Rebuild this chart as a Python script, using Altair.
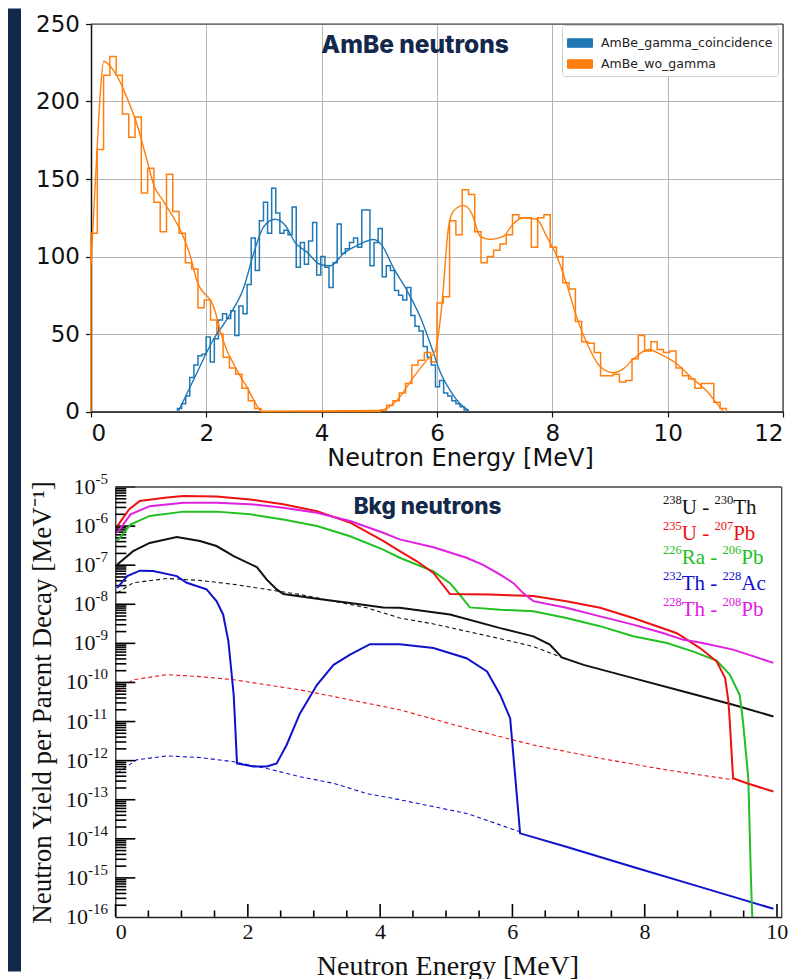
import altair as alt
import pandas as pd

NAVY = "#13294b"

# ================= Top panel: AmBe neutrons =================
top_series = ["AmBe_gamma_coincidence", "AmBe_wo_gamma"]
top_colors = ["#1f77b4", "#ff7f0e"]
top_x_ticks = [0, 2, 4, 6, 8, 10, 12]
top_y_ticks = [0, 50, 100, 150, 200, 250]

blue_bin_start = 1.5
blue_bin_width = 0.071
blue_counts = [2, 5, 10, 22, 30, 36, 37, 48, 32, 47, 59, 63, 60,
               65, 49, 68, 63, 82, 112, 91, 123, 135, 115, 144, 128, 115, 117, 114, 132,
               93, 109, 95, 110, 122, 88, 100, 93, 80, 96, 121, 102, 105, 109, 112, 106,
               130, 130, 94, 109, 118, 87, 94, 91, 78,
               75, 72, 80, 62, 55, 52, 42, 35, 30, 16, 20, 12, 10, 7, 5, 3, 1]

orange_bin_start = 0.0
orange_bin_width = 12 / 110
orange_counts = [115, 169, 217, 229, 217, 192, 177, 190, 141, 157, 135, 116, 153, 129, 115,
                 96, 92, 67, 72, 59, 50, 35, 28, 24, 15, 7, 2,
                 0, 0, 0, 0, 0, 0, 0, 0, 0, 0, 0, 0, 0, 0, 0, 0, 0, 0, 0,
                 1, 4, 7, 12, 18, 30, 33, 38, 32,
                 70, 74, 123, 114, 143, 140, 116, 96, 100, 104, 108, 114, 127, 125, 125,
                 106, 125, 127, 106, 100, 83, 79, 58, 45, 44, 38, 23, 23, 24, 19, 20,
                 34, 49, 39, 45, 40, 38, 39, 28, 23, 21, 15, 18, 18, 6, 2]

blue_fit_E = [1.52, 1.85, 2.1, 2.4, 2.65, 2.82, 2.99, 3.19, 3.37, 3.54, 3.74, 3.97, 4.15,
              4.38, 4.61, 4.9, 5.05, 5.24, 5.48, 5.71, 5.91, 6.05, 6.23, 6.4, 6.55]
blue_fit_N = [0.5, 26, 45, 62, 80, 102, 119, 124, 120, 109, 103, 95, 94,
              102, 107, 111, 107, 93, 78, 61, 41, 26, 13.5, 5, 0.6]

orange_fit_E = [0.0, 0.05, 0.1, 0.16, 0.22, 0.35, 0.5, 0.65, 0.8, 0.95, 1.1, 1.25, 1.4,
                1.55, 1.7, 1.86, 1.97, 2.07, 2.15, 2.24, 2.35, 2.47, 2.6, 2.7, 2.8, 2.93,
                2.97, 5.0, 5.3, 5.59, 5.82, 5.97, 6.08, 6.2, 6.28, 6.46, 6.6, 6.75, 6.92,
                7.15, 7.32, 7.5, 7.73, 7.9, 8.08, 8.25, 8.42, 8.6, 8.83, 9.06, 9.23, 9.41,
                9.67, 9.87, 10.15, 10.44, 10.67, 10.9, 10.96]
orange_fit_N = [95, 130, 165, 205, 226, 222, 213, 200, 185, 165, 145, 136, 127,
                117, 103, 82, 76, 72, 65, 52, 40, 31, 22, 16, 9, 1,
                0, 0.6, 7, 22, 33, 39, 67, 119, 129, 133, 128, 113, 111,
                113, 121, 125, 124, 113, 100, 82, 61, 44, 29, 25, 27.5, 34,
                40, 37, 31, 21, 13.5, 3, 0.5]

top_title = "AmBe neutrons"
top_title_pos = (5.62, 236)


def step_rows(name, start, width, counts):
    rows = [(name, start, 0.0)]
    for k, c in enumerate(counts):
        rows.append((name, start + k * width, c))
    rows.append((name, start + len(counts) * width, 0.0))
    return rows


hist_rows = (step_rows(top_series[0], blue_bin_start, blue_bin_width, blue_counts)
             + step_rows(top_series[1], orange_bin_start, orange_bin_width, orange_counts))
hist_df = pd.DataFrame(hist_rows, columns=["series", "E", "N"])
hist_df["i"] = range(len(hist_df))

fit_df = pd.concat([
    pd.DataFrame({"series": top_series[0], "E": blue_fit_E, "N": blue_fit_N}),
    pd.DataFrame({"series": top_series[1], "E": orange_fit_E, "N": orange_fit_N}),
], ignore_index=True)
fit_df["i"] = range(len(fit_df))

top_frame_df = pd.DataFrame({"E": [0, 12], "E2": [12, 12], "N": [250, 0], "N2": [250, 250]})

x_top = alt.X("E:Q", scale=alt.Scale(domain=[0, 12], nice=False, zero=False),
              axis=alt.Axis(values=top_x_ticks, title="Neutron Energy [MeV]",
                            labelFont="DejaVu Sans", labelFontSize=23, labelColor="#111",
                            labelPadding=5, tickSize=5.5, tickColor="#111", tickWidth=1.2,
                            domainColor="#111", domainWidth=1.5, grid=True,
                            gridColor="#b4b4b4", gridWidth=1,
                            titleFont="DejaVu Sans", titleFontSize=24, titleFontWeight="normal",
                            titleColor="#111", titleX=369, titleY=54,
                            titleBaseline="alphabetic"))
y_top = alt.Y("N:Q", scale=alt.Scale(domain=[0, 250], nice=False),
              axis=alt.Axis(values=top_y_ticks, title=None, labelFont="DejaVu Sans",
                            labelFontSize=23, labelColor="#111", labelPadding=6,
                            tickSize=5.5, tickColor="#111", tickWidth=1.2,
                            domainColor="#111", domainWidth=1.5, grid=True,
                            gridColor="#b4b4b4", gridWidth=1))
stroke_top = alt.Color("series:N", scale=alt.Scale(domain=top_series, range=top_colors),
                       legend=None)

navy_strip = alt.Chart(pd.DataFrame({"a": [0]})).mark_rect(color=NAVY).encode(
    x=alt.value(-83), x2=alt.value(-70), y=alt.value(-15.5), y2=alt.value(947.5))

top_frame = alt.Chart(top_frame_df).mark_rule(color="#333", strokeWidth=1.2).encode(
    x=x_top, x2="E2:Q", y=y_top, y2="N2:Q")

# zero-height areas over the histogram outline: they carry the patch legend only
legend_layer = alt.Chart(hist_df).mark_area(interpolate="step-after").encode(
    x=x_top, y=y_top, y2="N:Q", order="i:Q",
    fill=alt.Fill("series:N", scale=alt.Scale(domain=top_series, range=top_colors),
                  legend=alt.Legend(
                      orient="none", legendX=471, legendY=1, title=None,
                      symbolType="M-1,-0.34H1V0.34H-1Z", symbolSize=625,
                      symbolStrokeColor="black", symbolStrokeWidth=1, symbolOpacity=1,
                      labelFont="DejaVu Sans", labelFontSize=12.5, labelColor="#222",
                      labelLimit=400, labelOffset=8, rowPadding=1, padding=5,
                      fillColor="white", strokeColor="#d0d0d0", cornerRadius=3)))

hist_lines = alt.Chart(hist_df).mark_line(interpolate="step-after", strokeWidth=1.5).encode(
    x=x_top, y=y_top, color=stroke_top, order="i:Q", detail="series:N")

fit_lines = alt.Chart(fit_df).mark_line(interpolate="monotone", strokeWidth=1.4).encode(
    x=x_top, y=y_top, color=stroke_top, order="i:Q", detail="series:N")

top_title_layer = alt.Chart(pd.DataFrame({"E": [top_title_pos[0]], "N": [top_title_pos[1]],
                                          "t": [top_title]})).mark_text(
    font="Inter", fontWeight=800, fontSize=24.5, color=NAVY, align="center",
    baseline="middle").encode(x=x_top, y=y_top, text="t:N")

top = alt.layer(navy_strip, legend_layer, hist_lines, fit_lines, top_frame,
                top_title_layer).properties(width=692, height=387.5)

# ================= Bottom panel: background neutrons =================
bkg_series = ["238U - 230Th", "235U - 207Pb", "226Ra - 206Pb", "232Th - 228Ac", "228Th - 208Pb"]
bkg_colors = ["#111111", "#ee1111", "#22c022", "#1111cc", "#e020e0"]
# legend entries as (superscript, symbol) pairs:  ^238U - ^230Th  etc.
bkg_label_parts = [[("238", "U"), ("230", "Th")],
                   [("235", "U"), ("207", "Pb")],
                   [("226", "Ra"), ("206", "Pb")],
                   [("232", "Th"), ("228", "Ac")],
                   [("228", "Th"), ("208", "Pb")]]
bkg_label_E = 8.28
bkg_label_log = [-5.54, -6.21, -6.82, -7.49, -8.15]

black_E = [0.03, 0.27, 0.52, 0.93, 1.28, 1.53, 1.79, 2.14, 2.29, 2.44, 2.54, 3.05, 3.55,
           4.05, 4.3, 5.06, 5.82, 6.32, 6.57, 6.75, 7.08, 7.83, 8.59, 9.34, 9.95]
black_log = [-6.98, -6.64, -6.43, -6.28, -6.38, -6.51, -6.77, -7.05, -7.37, -7.62, -7.74,
             -7.86, -7.97, -8.08, -8.09, -8.26, -8.61, -8.82, -9.03, -9.36, -9.55, -9.89,
             -10.23, -10.57, -10.87]
red_E = [0.03, 0.21, 0.37, 0.78, 1.03, 1.53, 2.04, 2.54, 3.05, 3.55, 4.05, 4.3, 4.56, 4.81,
         5.06, 5.66, 6.32, 6.82, 7.33, 7.83, 8.34, 8.49, 8.84, 9.09, 9.22, 9.27, 9.29, 9.34,
         9.55, 9.95]
red_log = [-6.0, -5.57, -5.36, -5.27, -5.23, -5.24, -5.32, -5.44, -5.62, -5.91, -6.38, -6.64,
           -6.9, -7.2, -7.74, -7.75, -7.79, -7.92, -8.09, -8.35, -8.65, -8.74, -9.12, -9.46,
           -9.89, -10.49, -11.0, -12.45, -12.58, -12.79]
green_E = [0.03, 0.23, 0.52, 1.03, 1.53, 2.04, 2.54, 3.05, 3.55, 4.05, 4.3, 4.81, 5.06, 5.21,
           5.36, 5.82, 6.32, 6.82, 7.33, 7.83, 8.34, 8.74, 9.09, 9.29, 9.44, 9.49, 9.57, 9.61,
           9.63]
green_log = [-6.38, -5.96, -5.74, -5.63, -5.63, -5.7, -5.83, -6.0, -6.26, -6.6, -6.81, -7.16,
             -7.46, -7.76, -8.08, -8.14, -8.18, -8.35, -8.56, -8.82, -8.99, -9.21, -9.44,
             -9.8, -10.32, -11.0, -12.45, -15.02, -16.0]
blue_E = [0.03, 0.18, 0.37, 0.57, 0.93, 1.08, 1.38, 1.53, 1.63, 1.71, 1.79, 1.81, 1.84, 2.09,
          2.29, 2.44, 2.59, 2.79, 3.05, 3.3, 3.55, 3.85, 4.3, 4.81, 5.31, 5.62, 5.82, 5.97,
          6.12, 6.83, 7.83, 8.84, 9.95]
blue_log = [-7.58, -7.28, -7.14, -7.15, -7.28, -7.45, -7.62, -7.92, -8.26, -8.95, -10.32,
            -11.0, -12.07, -12.15, -12.15, -12.07, -11.6, -10.8, -10.06, -9.55, -9.29, -9.02,
            -9.02, -9.12, -9.38, -9.72, -10.32, -10.92, -13.86, -14.21, -14.72, -15.23,
            -15.79]
magenta_E = [0.03, 0.23, 0.52, 1.03, 1.53, 2.04, 2.54, 3.05, 3.55, 4.05, 4.3, 4.81, 5.31,
             5.56, 5.82, 6.02, 6.17, 6.32, 6.82, 7.33, 7.83, 8.29, 8.59, 8.84, 9.34, 9.95]
magenta_log = [-6.17, -5.7, -5.49, -5.4, -5.4, -5.44, -5.53, -5.66, -5.87, -6.17, -6.34,
               -6.54, -6.81, -6.99, -7.24, -7.46, -7.72, -7.92, -8.09, -8.31, -8.52, -8.74,
               -8.91, -8.98, -9.16, -9.5]

black_dash_E = [0.03, 0.27, 0.78, 1.28, 1.79, 2.29, 2.79, 3.3, 3.8, 4.3, 4.8, 5.31, 5.82,
                6.32, 6.75]
black_dash_log = [-7.71, -7.45, -7.34, -7.39, -7.49, -7.62, -7.75, -7.92, -8.09, -8.35,
                  -8.5, -8.69, -8.88, -9.08, -9.36]
red_dash_E = [0.03, 0.27, 0.78, 1.28, 1.79, 2.29, 2.79, 3.3, 3.8, 4.3, 5.31, 6.32, 7.33,
              8.34, 9.34]
red_dash_log = [-10.23, -9.93, -9.8, -9.85, -9.93, -10.06, -10.19, -10.36, -10.53, -10.7,
                -11.17, -11.6, -11.94, -12.24, -12.49]
blue_dash_E = [0.03, 0.32, 0.78, 1.28, 1.79, 2.29, 2.79, 3.3, 3.8, 4.3, 5.31, 6.12]
blue_dash_log = [-12.32, -11.98, -11.88, -11.92, -12.03, -12.2, -12.41, -12.58, -12.84,
                 -13.0, -13.35, -13.82]

bot_title = "Bkg neutrons"
bot_title_pos = (4.72, -5.51)

y_tick_exps = [-5, -6, -7, -8, -9, -10, -11, -12, -13, -14, -15, -16]
minor_logs = [0.30103, 0.47712, 0.60206, 0.69897, 0.77815, 0.84510, 0.90309, 0.95424]
x_major_ticks = [0, 2, 4, 6, 8, 10]
x_minor_ticks = [0.5, 1, 1.5, 2.5, 3, 3.5, 4.5, 5, 5.5, 6.5, 7, 7.5, 8.5, 9, 9.5]
E_MAX = 10.075
PX_PER_MEV = 66.14      # bottom x scale: pixels per MeV
PX_PER_DECADE = 39.0    # bottom y scale: pixels per decade

# Liberation Serif (Times) advance widths in em, to set superscripts beside their base text
TIMES_W = {"0": 0.5, "1": 0.5, "2": 0.5, "3": 0.5, "4": 0.5, "5": 0.5, "6": 0.5, "7": 0.5,
           "8": 0.5, "9": 0.5, "-": 0.333, " ": 0.25, "U": 0.722, "T": 0.611, "h": 0.5,
           "P": 0.556, "b": 0.5, "R": 0.667, "a": 0.444, "A": 0.722, "c": 0.444}
BASE_FS, SUP_FS = 21, 12.5
AX_BASE_FS, AX_SUP_FS = 22, 15


def text_w(s, fs):
    return sum(TIMES_W.get(ch, 0.5) for ch in s) * fs


def curve(name, col, Es, logs, width):
    return pd.DataFrame({"series": name, "col": col, "E": Es,
                         "Y": [10.0 ** v for v in logs], "w": width})


# inward ROOT-style ticks: each one a two-point segment (E pair, log10 pair)
T0 = 0.004
B0 = -15.995
tick_segs = [([T0, 20 / PX_PER_MEV], [d, d]) for d in y_tick_exps[:-1]]
tick_segs += [([T0, 11 / PX_PER_MEV], [d + m, d + m]) for d in y_tick_exps[1:]
              for m in minor_logs]
tick_segs += [([x + T0, x + T0], [B0, -16.0 + 13 / PX_PER_DECADE]) for x in x_major_ticks]
tick_segs += [([x, x], [B0, -16.0 + 6.5 / PX_PER_DECADE]) for x in x_minor_ticks]

solid_df = pd.concat(
    [curve(f"tick{k}", "#000000", es, lg, 1.6) for k, (es, lg) in enumerate(tick_segs)]
    + [curve(bkg_series[0], bkg_colors[0], black_E, black_log, 2.0),
       curve(bkg_series[3], bkg_colors[3], blue_E, blue_log, 2.0),
       curve(bkg_series[2], bkg_colors[2], green_E, green_log, 2.0),
       curve(bkg_series[1], bkg_colors[1], red_E, red_log, 2.0),
       curve(bkg_series[4], bkg_colors[4], magenta_E, magenta_log, 2.0)],
    ignore_index=True)
solid_df["i"] = range(len(solid_df))
dash_df = pd.concat([
    curve(bkg_series[0], bkg_colors[0], black_dash_E, black_dash_log, 1.1),
    curve(bkg_series[1], bkg_colors[1], red_dash_E, red_dash_log, 1.1),
    curve(bkg_series[3], bkg_colors[3], blue_dash_E, blue_dash_log, 1.1),
], ignore_index=True)
dash_df["i"] = range(len(dash_df))

x_bot = alt.X("E:Q", scale=alt.Scale(domain=[0, E_MAX], range=[24.3, 690.7], nice=False,
                                     zero=False),
              axis=alt.Axis(values=x_major_ticks, title="Neutron Energy [MeV]",
                            labelFont="Liberation Serif", labelFontSize=22, labelColor="#111",
                            labelPadding=4, ticks=False, domainColor="#222", domainWidth=1.3,
                            grid=False, titleFont="Liberation Serif", titleFontSize=28,
                            titleFontWeight="normal", titleColor="#111", titleX=356.5,
                            titleY=57, titleBaseline="alphabetic"))
y_bot = alt.Y("Y:Q", scale=alt.Scale(type="log", domain=[1e-16, 1e-5], nice=False),
              axis=alt.Axis(values=[10.0 ** e for e in y_tick_exps], labels=False,
                            offset=-24.3, ticks=False, grid=False, domainColor="#222",
                            domainWidth=1.3,
                            title="Neutron Yield per Parent Decay [MeV⁻¹]",
                            titleFont="Liberation Serif", titleFontSize=27,
                            titleFontWeight="normal", titleColor="#111", titleAngle=270,
                            titleX=-73, titleY=215, titleAlign="center",
                            titleBaseline="middle"))
col_enc = alt.Color("col:N", scale=None)
width_enc = alt.StrokeWidth("w:Q", scale=None, legend=None)

dash_lines = alt.Chart(dash_df).mark_line(strokeDash=[4, 3]).encode(
    x=x_bot, y=y_bot, color=col_enc, strokeWidth=width_enc, detail="series:N",
    order="i:Q")
solid_lines = alt.Chart(solid_df).mark_line().encode(
    x=x_bot, y=y_bot, color=col_enc, strokeWidth=width_enc, detail="series:N",
    order="i:Q")

bot_frame_df = pd.DataFrame({"E": [0, E_MAX], "E2": [E_MAX, E_MAX],
                             "Y": [1e-5, 1e-16], "Y2": [1e-5, 1e-5]})
bot_frame = alt.Chart(bot_frame_df).mark_rule(color="#444", strokeWidth=1.3).encode(
    x=x_bot, x2="E2:Q", y=y_bot, y2="Y2:Q")

# ---- rich text (base + superscript) for y tick labels and the isotope legend ----
rich_rows = []
AX_RIGHT_E = -7.3 / PX_PER_MEV
for d in y_tick_exps:
    sup = str(d)
    w_sup = text_w(sup, AX_SUP_FS)
    w_base = text_w("10", AX_BASE_FS)
    e_sup = AX_RIGHT_E - w_sup / PX_PER_MEV
    e_base = e_sup - w_base / PX_PER_MEV
    rich_rows.append((e_base, 10.0 ** d, "10", "base", "#111111", AX_BASE_FS))
    rich_rows.append((e_sup, 10.0 ** (d + 8 / PX_PER_DECADE), sup, "sup", "#111111",
                      AX_SUP_FS))
for parts, lg, col in zip(bkg_label_parts, bkg_label_log, bkg_colors):
    e = bkg_label_E
    for j, (mass, sym) in enumerate(parts):
        base_txt = sym + (" - " if j == 0 else "")
        rich_rows.append((e, 10.0 ** (lg + 8.5 / PX_PER_DECADE), mass, "sup", col, SUP_FS))
        e += text_w(mass, SUP_FS) / PX_PER_MEV
        rich_rows.append((e, 10.0 ** lg, base_txt, "base", col, BASE_FS))
        e += text_w(base_txt, BASE_FS) / PX_PER_MEV
rich_df = pd.DataFrame(rich_rows, columns=["E", "Y", "t", "kind", "col", "fs"])

rich_text = alt.Chart(rich_df).mark_text(
    font="Liberation Serif", align="left", baseline="middle").encode(
    x=x_bot, y=y_bot, text="t:N", color=col_enc,
    size=alt.Size("fs:Q", scale=None, legend=None))

bot_title_layer = alt.Chart(pd.DataFrame({"E": [bot_title_pos[0]],
                                          "Y": [10 ** bot_title_pos[1]],
                                          "t": [bot_title]})).mark_text(
    font="Inter", fontWeight=800, fontSize=22.5, color=NAVY, align="center",
    baseline="middle").encode(x=x_bot, y=y_bot, text="t:N")

bottom = alt.layer(dash_lines, solid_lines, bot_frame, rich_text,
                   bot_title_layer).properties(width=692, height=430)

chart = alt.vconcat(top, bottom, spacing=75, bounds="flush").resolve_scale(
    color="independent", fill="independent"
).configure(background="white", padding=0).configure_view(stroke=None)

chart.save("out.html", embed_options={"renderer": "svg", "actions": False})
